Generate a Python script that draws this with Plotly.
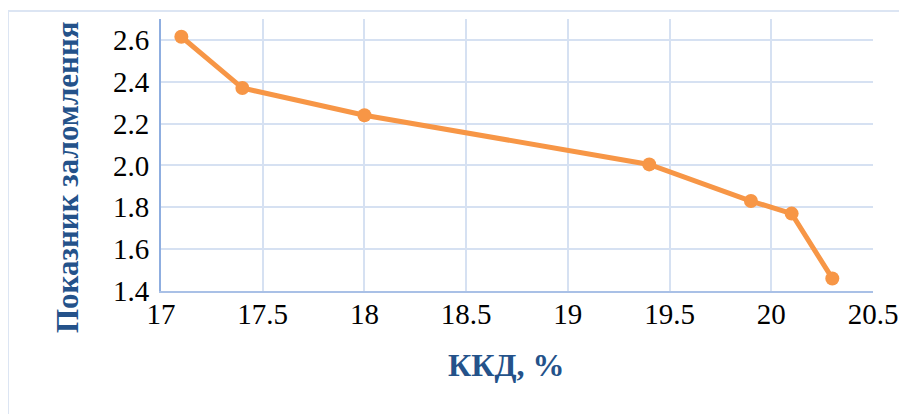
import plotly.graph_objects as go

efficiency = [17.1, 17.4, 18.0, 19.4, 19.9, 20.1, 20.3]
refr_index = [2.615, 2.37, 2.24, 2.005, 1.83, 1.77, 1.46]
x_ticks = [17, 17.5, 18, 18.5, 19, 19.5, 20, 20.5]
x_labels = ["17", "17.5", "18", "18.5", "19", "19.5", "20", "20.5"]
y_ticks = [1.4, 1.6, 1.8, 2.0, 2.2, 2.4, 2.6]
y_labels = ["1.4", "1.6", "1.8", "2.0", "2.2", "2.4", "2.6"]

OFF = 8  # page body margin
W, H = 907 - OFF, 414 - OFF
L, T = 161 - OFF, 19 - OFF
pw, ph = 712, 272
R, B = W - L - pw, H - T - ph

def px2x(px):
    return (px - OFF - L) / pw

def px2y(py):
    return (T + ph - (py - OFF)) / ph

fig = go.Figure()
fig.add_trace(go.Scatter(
    x=efficiency, y=refr_index, mode="lines+markers",
    line=dict(color="#F79646", width=5),
    marker=dict(color="#F79646", size=14),
    cliponaxis=False,
))

font = "Liberation Serif"
grid = "#D6E1F2"
tf = dict(family=font, size=29, color="black")
fig.update_layout(
    width=W, height=H,
    margin=dict(l=L, r=R, t=T, b=B, autoexpand=False),
    paper_bgcolor="white", plot_bgcolor="white",
    showlegend=False,
    font=tf,
    xaxis=dict(range=[17, 20.5], tickvals=x_ticks, ticktext=x_labels,
               showgrid=True, gridcolor=grid, gridwidth=2,
               showline=True, linecolor="#A9C0E6", linewidth=2,
               zeroline=False, ticks="", ticklen=0, tickfont=tf,
               ticklabelstandoff=-4),
    yaxis=dict(range=[1.4, 2.7], tickvals=y_ticks, ticktext=y_labels,
               showgrid=True, gridcolor=grid, gridwidth=2,
               showline=True, linecolor="#8FAEE0", linewidth=2,
               zeroline=False, ticks="", ticklen=0, tickfont=tf,
               ticklabelstandoff=4),
    shapes=[dict(type="rect", xref="paper", yref="paper",
                 x0=px2x(8), x1=px2x(907 + 20), y0=px2y(414 + 20), y1=px2y(11),
                 line=dict(color="#DCE5F3", width=2), fillcolor="rgba(0,0,0,0)",
                 layer="below")],
    annotations=[
        dict(text="<b>ККД, %</b>", xref="paper", yref="paper",
             x=px2x(506), y=px2y(365), xanchor="center", yanchor="middle",
             showarrow=False, font=dict(family=font, size=32, color="#24528A")),
        dict(text="<b>Показник заломлення</b>", xref="paper", yref="paper",
             x=px2x(68), y=px2y(177), xanchor="center", yanchor="middle",
             textangle=-90, showarrow=False,
             font=dict(family=font, size=31, color="#24528A")),
    ],
)

fig.write_html("out.html")
